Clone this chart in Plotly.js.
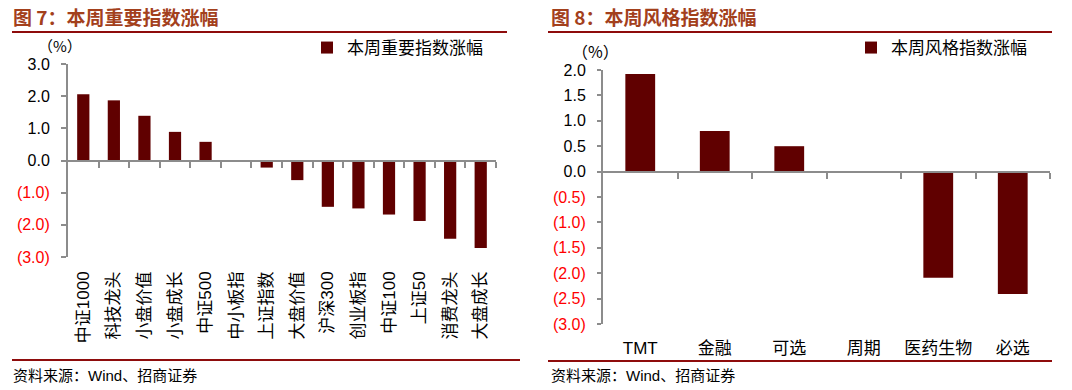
<!DOCTYPE html>
<html><head><meta charset="utf-8">
<script src="https://cdn.plot.ly/plotly-3.0.1.min.js"></script>
<style>html,body{margin:0;padding:0;background:#fff}#chart{width:1072px;height:390px}</style>
</head><body><div id="chart"></div>
<script>
// ---- data ----
const leftCategories = ['中证1000','科技龙头','小盘价值','小盘成长','中证500','中小板指','上证指数','大盘价值','沪深300','创业板指','中证100','上证50','消费龙头','大盘成长'];
const leftValues = [2.06, 1.87, 1.39, 0.89, 0.58, 0, -0.22, -0.61, -1.44, -1.49, -1.68, -1.88, -2.43, -2.72];
const leftSeriesName = '本周重要指数涨幅';
const leftTickVals = [-3, -2, -1, 0, 1, 2, 3];
const leftTitle = '图 7：本周重要指数涨幅';

const rightCategories = ['TMT','金融','可选','周期','医药生物','必选'];
const rightValues = [1.92, 0.80, 0.50, 0, -2.09, -2.41];
const rightSeriesName = '本周风格指数涨幅';
const rightTickVals = [-3, -2.5, -2, -1.5, -1, -0.5, 0, 0.5, 1, 1.5, 2];
const rightTitle = '图 8：本周风格指数涨幅';

const unitLabel = '（%）';
const sourceText = '资料来源：Wind、招商证券';

// ---- helpers ----
const W = 1072, H = 390;
const px = x => x / W;
const py = y => 1 - y / H;
const FONT = 'Liberation Sans, Arial, "Noto Sans CJK SC", sans-serif';
const CJK = '"Noto Sans CJK SC", "Liberation Sans", sans-serif';
const BAR = '#600000';
const AXIS = '#8c8c8c';
const RED = '#ff0000';
const TITLE_C = '#a3401c';
const RULE_C = '#8e0c0c';

function tickText(vals) {
  return vals.map(v => v < 0 ? `<span style="color:${RED}">(${Math.abs(v).toFixed(1)})</span>` : v.toFixed(1));
}
function zeroPos(domain, range) {
  return domain[0] + (0 - range[0]) / (range[1] - range[0]) * (domain[1] - domain[0]);
}
function boundaries(n) {
  const out = [];
  for (let i = 0; i < n; i++) out.push(i + 0.5);
  return out;
}

const lDomX = [px(68), px(496)], lDomY = [py(257), py(64)], lRange = [-3, 3];
const rDomX = [px(603), px(1050)], rDomY = [py(324), py(70)], rRange = [-3, 2];

const traces = [
  {type: 'bar', x: leftCategories, y: leftValues, name: leftSeriesName, xaxis: 'x', yaxis: 'y',
   marker: {color: BAR}, legend: 'legend', showlegend: true},
  {type: 'bar', x: rightCategories, y: rightValues, name: rightSeriesName, xaxis: 'x3', yaxis: 'y3',
   marker: {color: BAR}, legend: 'legend2', showlegend: true},
  // carriers for the zero-line category axes (no visible marks)
  {type: 'scatter', mode: 'none', x: [], y: [], xaxis: 'x2', yaxis: 'y', showlegend: false, hoverinfo: 'skip'},
  {type: 'scatter', mode: 'none', x: [], y: [], xaxis: 'x4', yaxis: 'y3', showlegend: false, hoverinfo: 'skip'}
];

const yCommon = {showline: true, linecolor: AXIS, linewidth: 2, ticks: 'outside', ticklen: 5, tickwidth: 2,
  tickcolor: AXIS, showgrid: false, zeroline: false, tickfont: {family: FONT, size: 16, color: '#000'},
  ticklabelstandoff: 8, fixedrange: true};

const layout = {
  width: W, height: H, margin: {l: 0, r: 0, t: 0, b: 0}, paper_bgcolor: '#fff', plot_bgcolor: 'rgba(0,0,0,0)',
  bargap: 0.6, hovermode: false,
  font: {family: FONT, color: '#000'},
  xaxis: {domain: lDomX, anchor: 'y', type: 'category', tickangle: -90, showline: false, showgrid: false,
    zeroline: false, ticks: '', tickfont: {family: FONT, size: 17, color: '#000'}, ticklabelstandoff: 10},
  yaxis: Object.assign({}, yCommon, {domain: lDomY, anchor: 'x', range: lRange, tickvals: leftTickVals,
    ticktext: tickText(leftTickVals)}),
  xaxis2: {overlaying: 'x', anchor: 'free', position: zeroPos(lDomY, lRange), type: 'linear',
    range: [-0.5, leftCategories.length - 0.5], tickvals: boundaries(leftCategories.length), ticks: 'outside',
    ticklen: 6, tickwidth: 2, tickcolor: AXIS, showticklabels: false, showline: true, linecolor: AXIS,
    linewidth: 2, showgrid: false, zeroline: false},
  xaxis3: {domain: rDomX, anchor: 'y3', type: 'category', showline: false, showgrid: false, zeroline: false,
    ticks: '', tickfont: {family: FONT, size: 17, color: '#000'}, ticklabelstandoff: 12},
  yaxis3: Object.assign({}, yCommon, {domain: rDomY, anchor: 'x3', range: rRange, tickvals: rightTickVals,
    ticktext: tickText(rightTickVals), ticklen: 4}),
  xaxis4: {overlaying: 'x3', anchor: 'free', position: zeroPos(rDomY, rRange), type: 'linear',
    range: [-0.5, rightCategories.length - 0.5], tickvals: boundaries(rightCategories.length), ticks: 'outside',
    ticklen: 6, tickwidth: 2, tickcolor: AXIS, showticklabels: false, showline: true, linecolor: AXIS,
    linewidth: 2, showgrid: false, zeroline: false},
  legend: {x: px(307), y: py(48), xanchor: 'left', yanchor: 'middle', bgcolor: 'rgba(0,0,0,0)',
    font: {family: CJK, size: 17, color: '#000'}, itemwidth: 30},
  legend2: {x: px(851), y: py(48), xanchor: 'left', yanchor: 'middle', bgcolor: 'rgba(0,0,0,0)',
    font: {family: CJK, size: 17, color: '#000'}, itemwidth: 30},
  shapes: [
    {type: 'line', xref: 'paper', yref: 'paper', x0: px(12), x1: px(507), y0: py(32), y1: py(32), line: {color: RULE_C, width: 2}},
    {type: 'line', xref: 'paper', yref: 'paper', x0: px(12), x1: px(520), y0: py(360), y1: py(360), line: {color: RULE_C, width: 2}},
    {type: 'line', xref: 'paper', yref: 'paper', x0: px(548), x1: px(1052), y0: py(32), y1: py(32), line: {color: RULE_C, width: 2}},
    {type: 'line', xref: 'paper', yref: 'paper', x0: px(548), x1: px(1052), y0: py(361), y1: py(361), line: {color: RULE_C, width: 2}}
  ],
  annotations: [
    {text: '<b>' + leftTitle + '</b>', xref: 'paper', yref: 'paper', x: px(11), y: py(17), xanchor: 'left', yanchor: 'middle',
     showarrow: false, font: {family: CJK, size: 19, color: TITLE_C}},
    {text: '<b>' + rightTitle + '</b>', xref: 'paper', yref: 'paper', x: px(549), y: py(17), xanchor: 'left', yanchor: 'middle',
     showarrow: false, font: {family: CJK, size: 19, color: TITLE_C}},
    {text: unitLabel, xref: 'paper', yref: 'paper', x: px(60), y: py(45), xanchor: 'center', yanchor: 'middle',
     showarrow: false, font: {family: CJK, size: 15, color: '#000'}},
    {text: unitLabel, xref: 'paper', yref: 'paper', x: px(595), y: py(51), xanchor: 'center', yanchor: 'middle',
     showarrow: false, font: {family: CJK, size: 16, color: '#000'}},
    {text: sourceText, xref: 'paper', yref: 'paper', x: px(11), y: py(375), xanchor: 'left', yanchor: 'middle',
     showarrow: false, font: {family: FONT, size: 15, color: '#000'}},
    {text: sourceText, xref: 'paper', yref: 'paper', x: px(549), y: py(375), xanchor: 'left', yanchor: 'middle',
     showarrow: false, font: {family: FONT, size: 15, color: '#000'}}
  ]
};

Plotly.newPlot('chart', traces, layout, {staticPlot: true, displayModeBar: false});
</script>
</body></html>
